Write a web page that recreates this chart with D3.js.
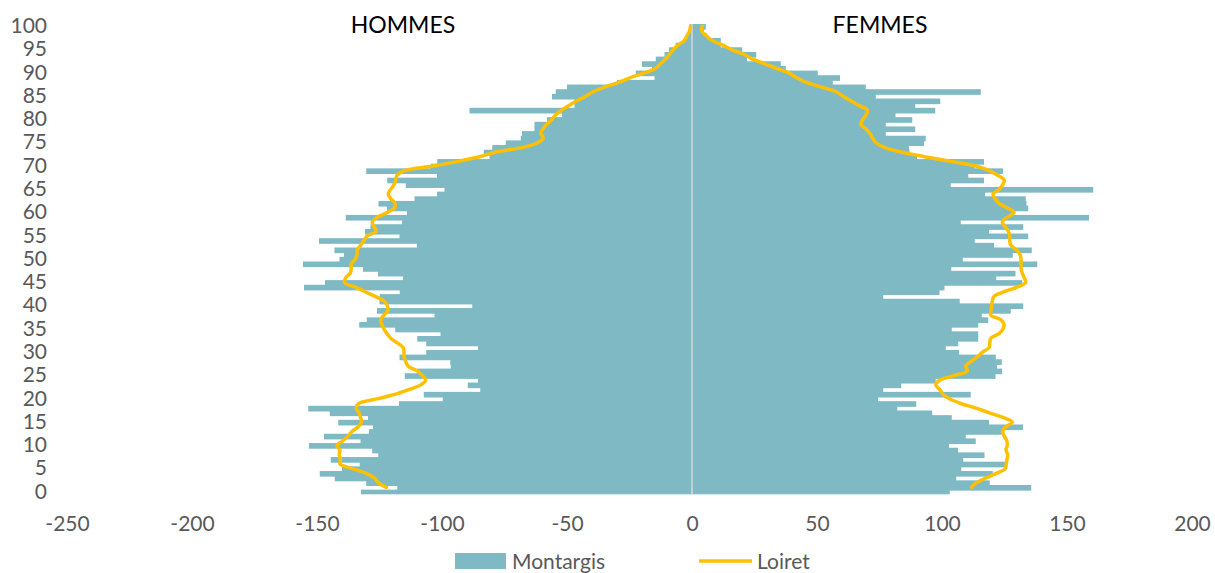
<!DOCTYPE html>
<html>
<head>
<meta charset="utf-8">
<script src="https://cdn.jsdelivr.net/npm/d3@7"></script>
<style>
  html, body { margin: 0; padding: 0; background: #fff; }
  #chart { width: 1215px; height: 573px; }
  text { font-family: Lato, "Open Sans", sans-serif; }
</style>
</head>
<body>
<div id="chart"></div>
<script>
// Pyramide des ages - Montargis (barres) et Loiret (courbe)

const ages = d3.range(0, 101);

// hommes Montargis, age 0 -> 100 (negatifs)
const hommesMontargis = [
  -132.4, -117.9, -130.3, -142.9, -148.9, -140, -132.9, -144.5, -125.5, -127.9,
  -153.2, -132.6, -147.2, -129.2, -127.6, -141.5, -129.6, -144.9, -153.5, -117.2,
  -99.7, -107.3, -84.7, -89.7, -85.6, -114.9, -110, -96.5, -96.7, -117,
  -106.3, -85.6, -106.3, -109.9, -100.6, -118.7, -133.1, -130.1, -103, -126,
  -87.9, -125, -124.9, -116.9, -155.2, -146.8, -115.6, -125.6, -131.6, -155.6,
  -141, -139.2, -143, -110, -149.2, -117, -130.8, -128.6, -116, -138.5,
  -114, -122, -125.4, -111, -102, -99, -114.5, -121.9, -102, -130.3,
  -104.5, -101.9, -81, -83.3, -79.9, -74.5, -68.5, -68, -63, -63,
  -58, -52, -89, -47, -47, -56, -54.5, -50, -30, -15,
  -22.5, -16, -20, -14.5, -11, -9.2, -6.5, -3, -2, -1,
  -1
];

// femmes Montargis, age 0 -> 100
const femmesMontargis = [
  103.1, 135.7, 119.1, 105.7, 120.3, 107.7, 125.2, 108.5, 117, 106.4,
  102.8, 113.5, 109.5, 124.4, 132.4, 118.8, 103.9, 96.1, 82.1, 89.7,
  74.4, 111.5, 76.5, 83.7, 97.5, 121.4, 124, 122, 123.9, 121.5,
  106.8, 101.5, 106.5, 114.5, 114.5, 103.9, 114.5, 118.5, 115.9, 127.5,
  132.5, 107.1, 76.5, 99, 101, 132.1, 121.7, 129.4, 103.7, 138.1,
  108.3, 128.3, 135.9, 120.8, 113.1, 134.5, 118.8, 132.5, 107.5, 158.8,
  128.8, 134.5, 133.8, 133.5, 117.2, 160.5, 103.5, 116.8, 110.5, 124.4,
  113, 116.8, 90, 87, 86.8, 92.8, 93.5, 77.5, 89.3, 77.5,
  88.1, 81.4, 97.3, 89.3, 99.3, 73.5, 115.5, 69.5, 56.3, 59.2,
  50.3, 37.5, 35.5, 22, 25.7, 20.1, 11.5, 11.5, 6, 4.8,
  5.5
];

// Loiret (ramene a Montargis), age 1 -> 100
const lineAges = d3.range(1, 101);
const hommesLoiret = [
  -122.2, -125.5, -127.0, -130.3, -135.8, -140.8, -140.6, -141.1, -140.9, -142.0,
  -139.6, -137.6, -136.0, -133.5, -132.2, -132.6, -133.2, -134.3, -133.3, -126,
  -118.5, -113.2, -108.5, -106.5, -107.9, -109.9, -113.5, -114.5, -115.2, -115.2,
  -115.5, -117.9, -120.5, -122, -123.2, -124.1, -124.5, -123.2, -121.6, -121.9,
  -123.2, -126.7, -130.7, -134.7, -139, -138.5, -136.7, -136.3, -136.3, -134.7,
  -134, -133.9, -132.5, -131.2, -129.9, -126.3, -127.2, -127.9, -125.9, -121.9,
  -119, -118.8, -120.5, -121.5, -120.5, -119.2, -118.5, -118, -115, -103.5,
  -93.5, -85, -78.3, -67.7, -61.7, -59.5, -60.5, -59.6, -58, -56,
  -54.5, -52.1, -49.2, -46, -42.5, -39.3, -34.7, -29, -24.6, -19,
  -14.5, -12.5, -10.5, -9, -7.5, -5.5, -3, -2, -1, -0.6
];
const femmesLoiret = [
  111.8, 113.8, 117.6, 121.7, 125.3, 125.7, 126.0, 126.3, 125.6, 126.1,
  125.9, 124.9, 124.2, 125.6, 128.1, 124.4, 119.0, 113.6, 107.5, 103,
  100.4, 99.1, 97.5, 99.1, 104.8, 110.1, 109.5, 111.5, 114.1, 116.1,
  118.8, 119.1, 119.5, 122.8, 124.4, 124.8, 123.5, 119.5, 119.6, 119.9,
  120.1, 120.8, 124.8, 130.1, 133.5, 132.9, 132.1, 131.6, 131.6, 131.6,
  131.2, 129.8, 127.5, 127.1, 127.1, 126.5, 125.2, 124.1, 126.1, 128.8,
  126.1, 122.8, 121.2, 120.4, 122.9, 124.3, 124.9, 122.3, 118.9, 113.6,
  103.6, 92.9, 83.6, 77, 73.6, 72.2, 71.2, 69.5, 67.5, 68.4,
  69.7, 70.1, 66.8, 63.5, 60.4, 57.5, 51.5, 45.5, 41.7, 38.8,
  33.7, 28.8, 24.1, 20.8, 15.9, 12.1, 7.9, 5.7, 3.9, 4.1
];

const xTicks = [-250, -200, -150, -100, -50, 0, 50, 100, 150, 200];
const yTickAges = d3.range(0, 101, 5);
const seriesNames = ['Montargis', 'Loiret'];

const barColor = '#7fbac4';
const lineColor = '#ffc000';
const textColor = '#595959';

const width = 1215, height = 573;
const plot = { left: 67, right: 1192, top: 24, bottom: 494.3 };

const svg = d3.select('#chart').append('svg')
  .attr('width', width)
  .attr('height', height);

const x = d3.scaleLinear().domain([-250, 200]).range([plot.left, plot.right]);
const y = d3.scaleBand().domain(ages.slice().reverse()).range([plot.top, plot.bottom]).padding(0);
const bw = y.bandwidth();

// barres hommes (legere sur-hauteur pour eviter les filets entre barres)
svg.append('g').selectAll('rect')
  .data(ages)
  .join('rect')
  .attr('x', d => x(hommesMontargis[d]))
  .attr('y', d => y(d))
  .attr('width', d => x(0) - x(hommesMontargis[d]))
  .attr('height', d => d === 0 ? bw : bw + 1)
  .attr('fill', barColor);

// barres femmes
svg.append('g').selectAll('rect')
  .data(ages)
  .join('rect')
  .attr('x', x(0))
  .attr('y', d => y(d))
  .attr('width', d => x(femmesMontargis[d]) - x(0))
  .attr('height', d => d === 0 ? bw : bw + 1)
  .attr('fill', barColor);

// axe vertical au zero
svg.append('line')
  .attr('x1', x(0)).attr('x2', x(0))
  .attr('y1', plot.top).attr('y2', plot.bottom)
  .attr('stroke', '#d9d9d9')
  .attr('stroke-width', 1.5);

// courbes Loiret
const line = d3.line()
  .x(d => x(d.v))
  .y(d => y(d.age) + bw / 2)
  .curve(d3.curveCatmullRom.alpha(0.5));

[hommesLoiret, femmesLoiret].forEach(serie => {
  svg.append('path')
    .datum(lineAges.map((a, i) => ({ age: a, v: serie[i] })))
    .attr('d', line)
    .attr('fill', 'none')
    .attr('stroke', lineColor)
    .attr('stroke-width', 3.5)
    .attr('stroke-linejoin', 'round')
    .attr('stroke-linecap', 'round');
});

// axe x (etiquettes seules, tiret simple comme signe moins)
const xAxis = svg.append('g')
  .attr('transform', `translate(0,${plot.bottom})`)
  .call(d3.axisBottom(x).tickValues(xTicks).tickSize(0).tickPadding(22).tickFormat(d => String(d)));
xAxis.select('.domain').remove();
xAxis.selectAll('text')
  .attr('fill', textColor)
  .attr('font-size', '21px')
  .style('font-family', 'Lato, sans-serif');

// axe y (ages tous les 5 ans)
const yAxis = svg.append('g')
  .attr('transform', `translate(${plot.left - 20},0)`)
  .call(d3.axisLeft(y).tickValues(yTickAges).tickSize(0).tickPadding(0));
yAxis.select('.domain').remove();
yAxis.selectAll('text')
  .attr('fill', textColor)
  .attr('font-size', '21px')
  .style('font-family', 'Lato, sans-serif');

// titres HOMMES / FEMMES
svg.append('text')
  .attr('x', 403).attr('y', 33)
  .attr('text-anchor', 'middle')
  .attr('font-size', '23px')
  .attr('fill', '#000')
  .text('HOMMES');

svg.append('text')
  .attr('x', 880).attr('y', 33)
  .attr('text-anchor', 'middle')
  .attr('font-size', '23px')
  .attr('fill', '#000')
  .text('FEMMES');

// legende
const legend = svg.append('g');
legend.append('rect')
  .attr('x', 455).attr('y', 553)
  .attr('width', 51).attr('height', 16)
  .attr('fill', barColor);
legend.append('text')
  .attr('x', 512).attr('y', 569)
  .attr('font-size', '21px')
  .attr('fill', textColor)
  .text(seriesNames[0]);
legend.append('line')
  .attr('x1', 699).attr('x2', 752)
  .attr('y1', 561).attr('y2', 561)
  .attr('stroke', lineColor)
  .attr('stroke-width', 3.5);
legend.append('text')
  .attr('x', 757).attr('y', 569)
  .attr('font-size', '21px')
  .attr('fill', textColor)
  .text(seriesNames[1]);
</script>
</body>
</html>
